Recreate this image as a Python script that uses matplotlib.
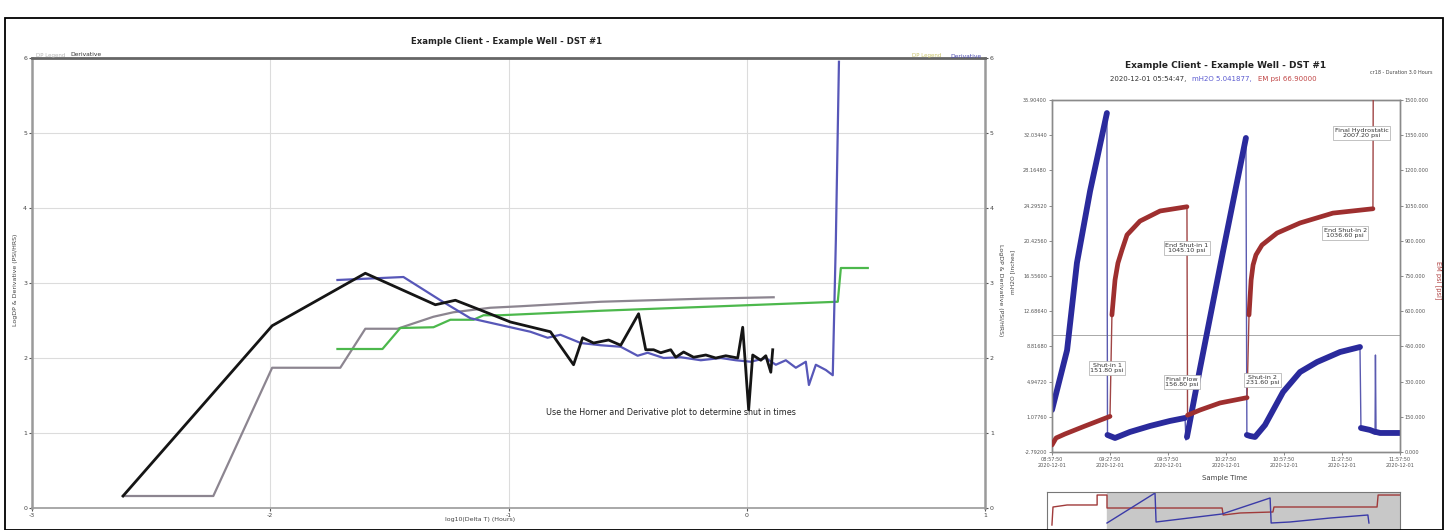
import matplotlib
matplotlib.use("Agg")
import matplotlib.pyplot as plt
from matplotlib.patches import Rectangle

plt.rcParams['font.family'] = ['DejaVu Sans']

# ---------------- Left chart data (log-log derivative plot) ----------------
title_left = "Example Client - Example Well - DST #1"
left_xticks = [-3, -2, -1, 0, 1]
left_yticks = [0, 1, 2, 3, 4, 5, 6]

dp_x = [-2.618, -1.992, -1.601, -1.307, -1.223, -1.118, -0.992, -0.824, -0.727, -0.689,
        -0.643, -0.580, -0.529, -0.454, -0.424, -0.391, -0.361, -0.319, -0.298, -0.265,
        -0.223, -0.172, -0.130, -0.088, -0.038, -0.017, 0.008, 0.025, 0.059, 0.080,
        0.101, 0.109]
dp_y = [0.16, 2.43, 3.13, 2.71, 2.77, 2.64, 2.48, 2.35, 1.91, 2.27,
        2.20, 2.24, 2.17, 2.59, 2.11, 2.11, 2.07, 2.11, 2.01, 2.08,
        2.01, 2.04, 2.00, 2.03, 2.00, 2.41, 1.31, 2.04, 1.97, 2.03,
        1.81, 2.11]

deriv_x = [-1.718, -1.441, -1.286, -1.160, -1.034, -0.908, -0.836, -0.782, -0.697, -0.613,
           -0.529, -0.458, -0.416, -0.349, -0.277, -0.193, -0.109, -0.046, 0.017, 0.080,
           0.122, 0.164, 0.206, 0.248, 0.261, 0.290, 0.332, 0.361, 0.374, 0.387]
deriv_y = [3.04, 3.08, 2.77, 2.53, 2.44, 2.35, 2.27, 2.31, 2.20, 2.17,
           2.15, 2.03, 2.07, 2.00, 2.01, 1.97, 2.00, 1.97, 1.95, 2.00,
           1.91, 1.97, 1.87, 1.95, 1.64, 1.91, 1.84, 1.77, 3.57, 5.95]

horner_x = [-2.618, -2.239, -1.992, -1.706, -1.601, -1.466, -1.315, -1.231, -1.076, -0.950,
            -0.613, -0.193, 0.113]
horner_y = [0.16, 0.16, 1.87, 1.87, 2.39, 2.39, 2.55, 2.61, 2.67, 2.69,
            2.75, 2.79, 2.81]

green_x = [-1.718, -1.529, -1.454, -1.315, -1.244, -1.147, -1.105, -1.034, -0.613, -0.193,
           0.382, 0.395, 0.508]
green_y = [2.12, 2.12, 2.40, 2.41, 2.51, 2.51, 2.57, 2.57, 2.63, 2.68,
           2.75, 3.20, 3.20]

note_text = "Use the Horner and Derivative plot to determine shut in times"

# ---------------- Right chart data (time plot) ----------------
title_right = "Example Client - Example Well - DST #1"
subtitle_parts = ["2020-12-01 05:54:47,", "mH2O 5.041877,", "EM psi 66.90000"]
time_labels = ["08:57:50", "09:27:50", "09:57:50", "10:27:50", "10:57:50", "11:27:50", "11:57:50"]
time_ticks_min = [0, 30, 60, 90, 120, 150, 180]
date_label = "2020-12-01"
mh2o_ticks = [-2.7920, 1.0776, 4.9472, 8.8168, 12.6864, 16.5560, 20.4256,
              24.2952, 28.1648, 32.0344, 35.9040]
psi_ticks = [0, 150, 300, 450, 600, 750, 900, 1050, 1200, 1350, 1500]

mh2o_t = [0.0, 7.8, 12.9, 19.7, 28.4, 28.7, 30.0, 32.6, 40.3, 50.7,
          61.0, 68.8, 69.3, 69.8, 76.6, 88.4, 100.3, 100.8, 102.4, 105.0,
          110.2, 119.5, 128.3, 137.1, 149.0, 159.3, 159.8, 164.5, 167.1, 167.3,
          167.6, 169.7, 180.0]
mh2o_v = [1.83, 8.40, 18.00, 25.90, 34.47, -0.92, -1.03, -1.25, -0.59, 0.07,
          0.62, 0.95, -1.47, -1.14, 6.44, 19.19, 31.73, -0.92, -1.03, -1.14,
          0.18, 3.80, 6.00, 7.10, 8.20, 8.75, -0.15, -0.37, -0.59, 7.87,
          -0.59, -0.70, -0.70]

psi_t = [0.0, 2.1, 6.7, 17.1, 30.0, 31.0, 32.6, 34.1, 36.2, 38.8,
         45.5, 55.9, 69.8, 70.1, 76.6, 86.9, 100.9, 101.9, 103.0, 104.0,
         105.5, 108.6, 116.4, 128.3, 145.3, 166.0, 166.3]
psi_v = [29.8, 59.7, 76.7, 110.8, 151.8, 583.8, 733.0, 805.0, 861.0, 925.0,
         984.0, 1027.0, 1045.1, 156.8, 179.0, 209.0, 231.6, 584.0, 733.0, 797.0,
         840.0, 882.0, 933.0, 976.0, 1018.0, 1036.6, 2007.2]

events = ["Shut-in 1\n151.80 psi", "End Shut-in 1\n1045.10 psi", "Final Flow\n156.80 psi",
          "Shut-in 2\n231.60 psi", "End Shut-in 2\n1036.60 psi", "Final Hydrostatic\n2007.20 psi"]
event_t = [28.5, 69.8, 67.2, 109.0, 151.6, 160.3]
event_psi = [358.0, 869.0, 298.0, 307.0, 933.0, 1359.0]

# navigator overview (relative units)
nav_red_x = [1.4, 1.7, 5.7, 14.2, 14.2, 17.0, 17.0, 49.6, 49.9, 54.7, 64.0, 64.3, 93.5, 93.8, 100.0]
nav_red_y = [37.7, 71.7, 75.5, 75.5, 94.3, 94.3, 69.8, 69.8, 56.6, 60.4, 62.3, 71.7, 71.7, 94.3, 94.3]
nav_blue_x = [17.0, 30.6, 30.9, 49.6, 63.2, 63.5, 68.8, 80.2, 90.9, 91.2]
nav_blue_y = [41.5, 98.1, 43.4, 58.5, 88.7, 41.5, 43.4, 50.9, 56.6, 41.5]

# ---------------- Figure ----------------
W, H = 1448, 530
fig = plt.figure(figsize=(W / 100, H / 100), dpi=100)


def box(x0, y0, x1, y1):
    return [x0 / W, 1 - y1 / H, (x1 - x0) / W, (y1 - y0) / H]


def ft(x, y, s, **kw):
    return fig.text(x / W, 1 - y / H, s, **kw)


# outer border
fig.add_artist(Rectangle((5 / W, 0), (1443 - 5) / W, (530 - 18) / H, transform=fig.transFigure,
                         fill=False, ec='black', lw=1.3))

# ---- left chart ----
ax = fig.add_axes(box(32, 58, 985, 508))
ax.set_xlim(-3, 1)
ax.set_ylim(0, 6)
ax.set_xticks(left_xticks)
ax.set_yticks(left_yticks)
ax.set_xticklabels([str(v) for v in left_xticks], fontsize=4.5, color='#444')
ax.set_yticklabels([str(v) for v in left_yticks], fontsize=4.5, color='#444')
ax.tick_params(axis='both', length=2, width=0.8, color='#555', pad=1.5)
ax.tick_params(axis='y', which='both', right=True, labelright=True)
ax.grid(True, color='#dcdcdc', lw=0.8)
ax.set_axisbelow(True)
for s in ['left', 'right', 'bottom']:
    ax.spines[s].set_color('#9a9a9a')
    ax.spines[s].set_linewidth(1.8)
ax.spines['bottom'].set_linewidth(1.2)
ax.spines['top'].set_color('#666')
ax.spines['top'].set_linewidth(2.0)

ax.plot(horner_x, horner_y, color='#8c8590', lw=1.6)
ax.plot(green_x, green_y, color='#4cb84c', lw=1.6)
ax.plot(deriv_x, deriv_y, color='#5757b8', lw=1.6)
ax.plot(dp_x, dp_y, color='#151515', lw=2.0)
ax.text(-0.32, 1.27, note_text, fontsize=5.8, color='#222', ha='center', va='center')

ft(507, 42, title_left, fontsize=6.1, fontweight='bold', ha='center', va='center', color='#222')
ft(480, 520, "log10(Delta T) (Hours)", fontsize=4.5, ha='center', va='center', color='#444')
ft(16, 280, "LogDP & Derivative (PSI/HRS)", fontsize=4.5, rotation=90, ha='center', va='center', color='#444')
ft(1000, 290, "LogDP & Derivative (PSI/HRS)", fontsize=4.5, rotation=270, ha='center', va='center', color='#444')
ft(36, 55, "DP Legend", fontsize=4, color='#b5b5b5', ha='left', va='center')
ft(70, 55, "Derivative", fontsize=4.3, color='#333', ha='left', va='center')
ft(912, 56, "DP Legend", fontsize=4, color='#c9c36a', ha='left', va='center')
ft(950, 56, "Derivative", fontsize=4.3, color='#4a4ab0', ha='left', va='center')

# ---- right chart ----
ax2 = fig.add_axes(box(1052, 100, 1400, 452))
ax2.set_xlim(0, 180)
ax2.set_ylim(mh2o_ticks[0], mh2o_ticks[-1])
ax2.set_yticks(mh2o_ticks)
ax2.set_yticklabels(["%.5f" % v for v in mh2o_ticks], fontsize=3.6, color='#555')
ax2.set_xticks(time_ticks_min)
ax2.set_xticklabels(["%s\n%s" % (t, date_label) for t in time_labels], fontsize=3.6, color='#555')
ax2.tick_params(length=2, width=0.6, color='#777', pad=1.5)
for s in ax2.spines.values():
    s.set_color('#8a8a8a')
    s.set_linewidth(1.0)
ax2.axhline(10.07, color='#9a9a9a', lw=0.6)

ax3 = ax2.twinx()
ax3.set_ylim(psi_ticks[0], psi_ticks[-1])
ax3.set_yticks(psi_ticks)
ax3.set_yticklabels(["%.3f" % v for v in psi_ticks], fontsize=3.6, color='#555')
ax3.tick_params(length=2, width=0.6, color='#777', pad=1.5)
for s in ax3.spines.values():
    s.set_color('#8a8a8a')
    s.set_linewidth(1.0)

blue_c = '#2a2a9c'
red_c = '#9e2f2f'
ax2.plot(mh2o_t, mh2o_v, color='#5a5ab0', lw=1.0, zorder=3)
for a, b in [(0, 5), (5, 12), (13, 17), (17, 26), (26, 29), (30, 33)]:
    ax2.plot(mh2o_t[a:b], mh2o_v[a:b], color=blue_c, lw=4.2, solid_capstyle='round', zorder=4)
ax3.plot(psi_t, psi_v, color='#a04545', lw=1.0, zorder=3)
for a, b in [(0, 5), (5, 13), (13, 17), (17, 26)]:
    ax3.plot(psi_t[a:b], psi_v[a:b], color=red_c, lw=3.4, solid_capstyle='round', zorder=4)

for s, t, p in zip(events, event_t, event_psi):
    ax3.text(t, p, s, fontsize=4.6, ha='center', va='center', color='#333', zorder=6,
             bbox=dict(boxstyle='square,pad=0.25', fc='white', ec='#aaaaaa', lw=0.5))

ft(1226, 65, title_right, fontsize=6.5, fontweight='bold', ha='center', va='center', color='#222')

# subtitle: three coloured parts placed one after another
renderer = fig.canvas.get_renderer()
sub_colors = ['#333333', '#5a5ad0', '#c04545']
xpos = 1110.0
for part, col in zip(subtitle_parts, sub_colors):
    t = ft(xpos, 79, part, fontsize=5.0, ha='left', va='center', color=col)
    bb = t.get_window_extent(renderer=renderer)
    xpos += bb.width + 6

ft(1370, 73, "cr18 - Duration 3.0 Hours", fontsize=3.5, ha='left', va='center', color='#444')
ft(1225, 478, "Sample Time", fontsize=5, ha='center', va='center', color='#444')
ft(1013, 272, "mH2O [inches]", fontsize=4.2, rotation=90, ha='center', va='center', color='#444')
ft(1438, 280, "EM psi [psi]", fontsize=4.8, rotation=270, ha='center', va='center', color='#b04040')

# ---- navigator ----
ax4 = fig.add_axes(box(1047, 492, 1400, 545))
ax4.set_xlim(0, 100)
ax4.set_ylim(0, 100)
ax4.set_xticks([])
ax4.set_yticks([])
ax4.axvspan(17.0, 100, color='#c8c8c8', zorder=0)
ax4.plot(nav_red_x, nav_red_y, color='#a03a3a', lw=1.0)
ax4.plot(nav_blue_x, nav_blue_y, color='#3a3aa8', lw=1.0)
for s in ax4.spines.values():
    s.set_color('#777')
    s.set_linewidth(0.8)

fig.savefig("out.png", dpi=100)
